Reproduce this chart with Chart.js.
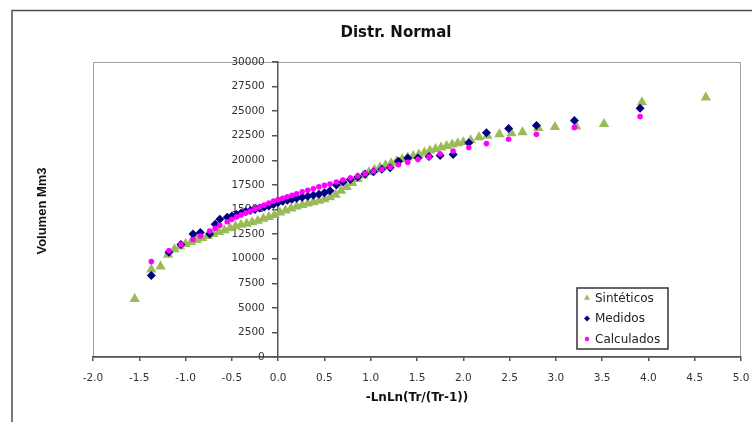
<!DOCTYPE html>
<html>
<head>
<meta charset="utf-8">
<script src="https://cdn.jsdelivr.net/npm/chart.js@4/dist/chart.umd.min.js"></script>
<style>
  html, body { margin: 0; padding: 0; background: #fff; }
  canvas { display: block; }
</style>
</head>
<body>
<canvas id="normalChart" width="752" height="422"></canvas>
<script>
// axis ranges
const xMin = -2.0, xMax = 5.0, xStep = 0.5;
const yMin = 0, yMax = 30000, yStep = 2500;

// Sintéticos
const sinteticosX = [
  -1.55, -1.37, -1.27, -1.19, -1.12, -1.06, -1.00, -0.94, -0.88, -0.82,
  -0.76, -0.70, -0.64, -0.58, -0.52, -0.46, -0.40, -0.34, -0.28, -0.22,
  -0.16, -0.10, -0.04, 0.02, 0.08, 0.14, 0.20, 0.26, 0.32, 0.38,
  0.44, 0.50, 0.56, 0.62, 0.68, 0.74, 0.80, 0.86, 0.92, 0.98,
  1.04, 1.10, 1.16, 1.22, 1.28, 1.34, 1.40, 1.46, 1.52, 1.58,
  1.64, 1.70, 1.76, 1.82, 1.88, 1.94, 2.00, 2.08, 2.17, 2.26,
  2.39, 2.52, 2.64, 2.81, 2.99, 3.22, 3.52, 3.93, 4.62
];
const sinteticosY = [
  5900, 8900, 9200, 10400, 10950, 11250, 11500, 11700, 11900, 12100,
  12300, 12500, 12700, 12900, 13100, 13300, 13450, 13550, 13700, 13850,
  14050, 14250, 14450, 14700, 14900, 15100, 15300, 15450, 15600, 15750,
  15900, 16050, 16250, 16500, 16900, 17300, 17700, 18100, 18450, 18800,
  19050, 19300, 19500, 19700, 19900, 20100, 20300, 20450, 20600, 20800,
  21000, 21150, 21300, 21450, 21600, 21750, 21850, 22050, 22350, 22500,
  22650, 22750, 22850, 23300, 23400, 23450, 23700, 25900, 26400
];

// Medidos y Calculados (mismas abscisas)
const medidosX = [
  -1.37, -1.18, -1.05, -0.92, -0.84, -0.74, -0.68, -0.63, -0.55, -0.50,
  -0.45, -0.40, -0.35, -0.30, -0.25, -0.20, -0.15, -0.10, -0.05, 0.00,
  0.05, 0.10, 0.15, 0.20, 0.26, 0.32, 0.38, 0.44, 0.50, 0.56,
  0.63, 0.70, 0.78, 0.86, 0.94, 1.03, 1.12, 1.21, 1.30, 1.40,
  1.51, 1.63, 1.75, 1.89, 2.06, 2.25, 2.49, 2.79, 3.20, 3.91
];
const medidosY = [
  8300, 10650, 11450, 12500, 12650, 12500, 13500, 14000, 14200, 14350,
  14500, 14650, 14800, 14900, 15000, 15150, 15250, 15350, 15500, 15700,
  15850, 15950, 16050, 16150, 16250, 16350, 16450, 16550, 16700, 16900,
  17500, 17800, 18050, 18300, 18600, 18850, 19100, 19250, 19900, 20250,
  20250, 20400, 20500, 20600, 21800, 22800, 23250, 23550, 24050, 25300
];
const calculadosY = [
  9700, 10800, 11450, 11950, 12300, 12800, 13100, 13400, 13750, 14000,
  14250, 14450, 14650, 14850, 15050, 15250, 15450, 15650, 15850, 16000,
  16150, 16300, 16450, 16600, 16800, 16950, 17100, 17300, 17450, 17600,
  17800, 18000, 18200, 18400, 18650, 18900, 19100, 19300, 19550, 19800,
  20100, 20350, 20650, 20950, 21300, 21700, 22150, 22650, 23350, 24450
];

const toPoints = (xs, ys) => xs.map((x, i) => ({ x: x, y: ys[i] }));

const textColor = '#333';
const axisColor = '#555';

// marco, títulos y leyenda
const decorPlugin = {
  id: 'decor',
  beforeDraw(chart) {
    const { ctx, chartArea: a } = chart;
    ctx.save();
    ctx.fillStyle = '#fff';
    ctx.fillRect(0, 0, chart.width, chart.height);
    // marco exterior
    ctx.strokeStyle = '#4d4d4d';
    ctx.lineWidth = 1.5;
    ctx.beginPath();
    ctx.moveTo(12, chart.height);
    ctx.lineTo(12, 10.5);
    ctx.lineTo(chart.width, 10.5);
    ctx.stroke();
    // borde del area de trazado
    ctx.strokeStyle = '#a0a0a0';
    ctx.lineWidth = 1;
    ctx.strokeRect(a.left + 0.5, a.top + 0.5, a.right - a.left - 1, a.bottom - a.top);
    // titulos
    ctx.fillStyle = '#111';
    ctx.textAlign = 'center';
    ctx.textBaseline = 'middle';
    ctx.font = 'bold 15px "DejaVu Sans"';
    ctx.fillText('Distr. Normal', 396, 33);
    ctx.translate(42, 211);
    ctx.rotate(-Math.PI / 2);
    ctx.font = 'bold 13px "Liberation Sans", Arial';
    ctx.fillText('Volumen Mm3', 0, 0);
    ctx.restore();
  },
  afterDraw(chart) {
    const { ctx } = chart;
    const box = { left: 577, top: 288, width: 91, height: 61 };
    ctx.save();
    ctx.fillStyle = '#fff';
    ctx.fillRect(box.left, box.top, box.width, box.height);
    ctx.strokeStyle = '#333';
    ctx.lineWidth = 1.5;
    ctx.strokeRect(box.left, box.top, box.width, box.height);
    ctx.font = '12px "DejaVu Sans"';
    ctx.textAlign = 'left';
    ctx.textBaseline = 'middle';
    chart.data.datasets.forEach((ds, i) => {
      const y = box.top + 10 + i * 20.5;
      ctx.fillStyle = ds.backgroundColor;
      ctx.strokeStyle = ds.borderColor;
      Chart.helpers.drawPoint(ctx, {
        pointStyle: ds.pointStyle,
        radius: ds.legendRadius,
        rotation: 0,
        borderWidth: 0
      }, 587, y);
      ctx.fillStyle = '#222';
      ctx.fillText(ds.label, 595, y + 0.5);
    });
    ctx.restore();
  }
};

const tickFont = { family: '"DejaVu Sans"', size: 10.5 };

new Chart(document.getElementById('normalChart').getContext('2d'), {
  type: 'scatter',
  data: {
    datasets: [
      {
        label: 'Sintéticos',
        data: toPoints(sinteticosX, sinteticosY),
        pointStyle: 'triangle',
        pointRadius: 6,
        legendRadius: 3.5,
        backgroundColor: '#9BBB59',
        borderColor: '#9BBB59',
        borderWidth: 0,
        order: 3
      },
      {
        label: 'Medidos',
        data: toPoints(medidosX, medidosY),
        pointStyle: 'rectRot',
        pointRadius: 4.5,
        legendRadius: 3,
        backgroundColor: '#000080',
        borderColor: '#000080',
        borderWidth: 0,
        order: 2
      },
      {
        label: 'Calculados',
        data: toPoints(medidosX, calculadosY),
        pointStyle: 'circle',
        pointRadius: 2.8,
        legendRadius: 2.2,
        backgroundColor: '#FF00FF',
        borderColor: '#FF00FF',
        borderWidth: 0,
        order: 1
      }
    ]
  },
  options: {
    responsive: false,
    animation: false,
    layout: { padding: { left: 93, right: 11, top: 62, bottom: 17 } },
    plugins: {
      legend: { display: false },
      title: { display: false },
      tooltip: { enabled: false }
    },
    scales: {
      x: {
        type: 'linear',
        position: 'bottom',
        min: xMin,
        max: xMax,
        afterFit: scale => { scale.paddingRight = 0; },
        ticks: {
          stepSize: xStep,
          callback: v => v.toFixed(1),
          font: tickFont,
          color: textColor,
          padding: 11,
          maxRotation: 0
        },
        grid: { drawOnChartArea: false, drawTicks: true, tickLength: 4, color: axisColor, lineWidth: 1.5 },
        border: { color: axisColor, width: 1.5 },
        title: {
          display: true,
          text: '-LnLn(Tr/(Tr-1))',
          font: { family: '"DejaVu Sans"', size: 12, weight: 'bold' },
          color: '#111',
          padding: { top: -5, bottom: 0 }
        }
      },
      y: {
        type: 'linear',
        axis: 'y',
        position: { x: 0 },
        min: yMin,
        max: yMax,
        ticks: {
          stepSize: yStep,
          // etiquetas a la izquierda del eje central
          callback: v => String(v) + '    ',
          font: tickFont,
          color: textColor
        },
        grid: { drawOnChartArea: false, drawTicks: true, tickLength: 5, color: axisColor, lineWidth: 1.5 },
        border: { color: axisColor, width: 1.5 }
      }
    }
  },
  plugins: [decorPlugin]
});
</script>
</body>
</html>
